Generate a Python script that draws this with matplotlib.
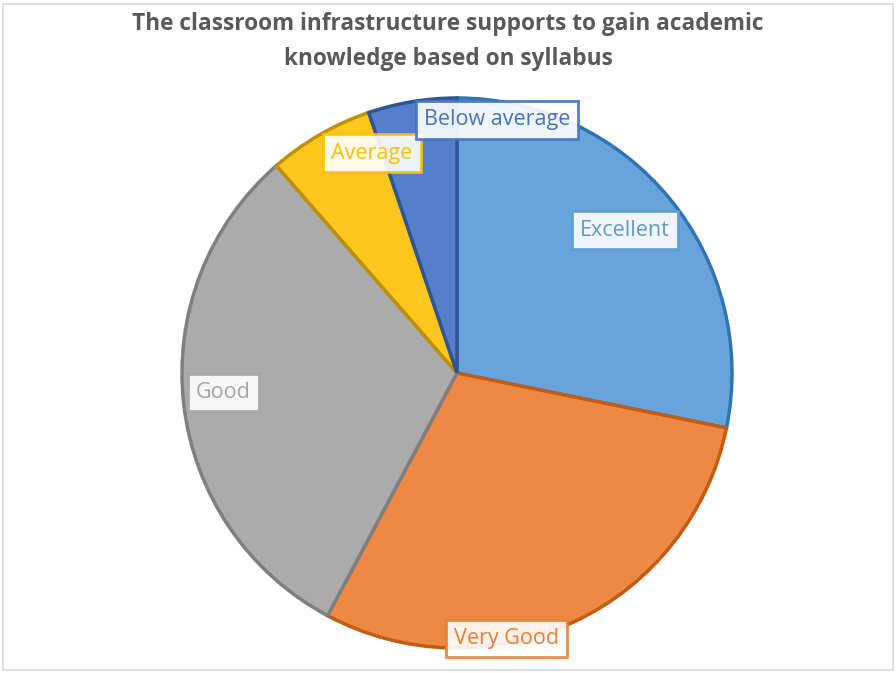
import matplotlib.pyplot as plt
from matplotlib.patches import Rectangle

# Data
categories = ["Excellent", "Very Good", "Good", "Average", "Below average"]
shares = [28.2, 29.6, 30.8, 6.2, 5.2]

# Styles
fills = ["#68A3DA", "#ED8944", "#ABABAB", "#FFC61E", "#557FCA"]
edges = ["#2E75B6", "#C55A11", "#7F7F7F", "#BF9000", "#2F5597"]
text_colors = ["#5B9BD5", "#ED7D31", "#A5A5A5", "#FFC000", "#4472C4"]
label_pos = [(0.61, 0.52), (0.18, -0.965), (-0.85, -0.07), (-0.31, 0.80), (0.145, 0.92)]

plt.rcParams['font.family'] = ['Open Sans', 'DejaVu Sans']

fig = plt.figure(figsize=(8.96, 6.73), dpi=100)
ax = fig.add_axes([182 / 896, 1 - 648 / 673, 550 / 896, 550 / 673])

wedges, _ = ax.pie(shares, startangle=90, counterclock=False, colors=fills,
                   wedgeprops=dict(linewidth=2.5))
for w, ec in zip(wedges, edges):
    w.set_edgecolor(ec)

for name, (x, y), tc, ec in zip(categories, label_pos, text_colors, edges):
    ax.text(x, y, name, ha="center", va="center", fontsize=15.5, color=tc,
            bbox=dict(boxstyle="square,pad=0.38", facecolor="white", alpha=0.9,
                      edgecolor=tc, linewidth=2))

ax.set_xlim(-1, 1)
ax.set_ylim(-1, 1)
ax.set_aspect("equal")
ax.axis("off")

fig.text(0.5, 0.982, "The classroom infrastructure supports to gain academic\nknowledge based on syllabus",
         ha="center", va="top", fontsize=16.3, fontweight="bold", color="#595959",
         linespacing=1.6)

fig.patches.append(Rectangle((0.003, 0.004), 0.994, 0.99, transform=fig.transFigure,
                             fill=False, edgecolor="#D9D9D9", linewidth=1.2))

fig.savefig("out.png", dpi=100)
